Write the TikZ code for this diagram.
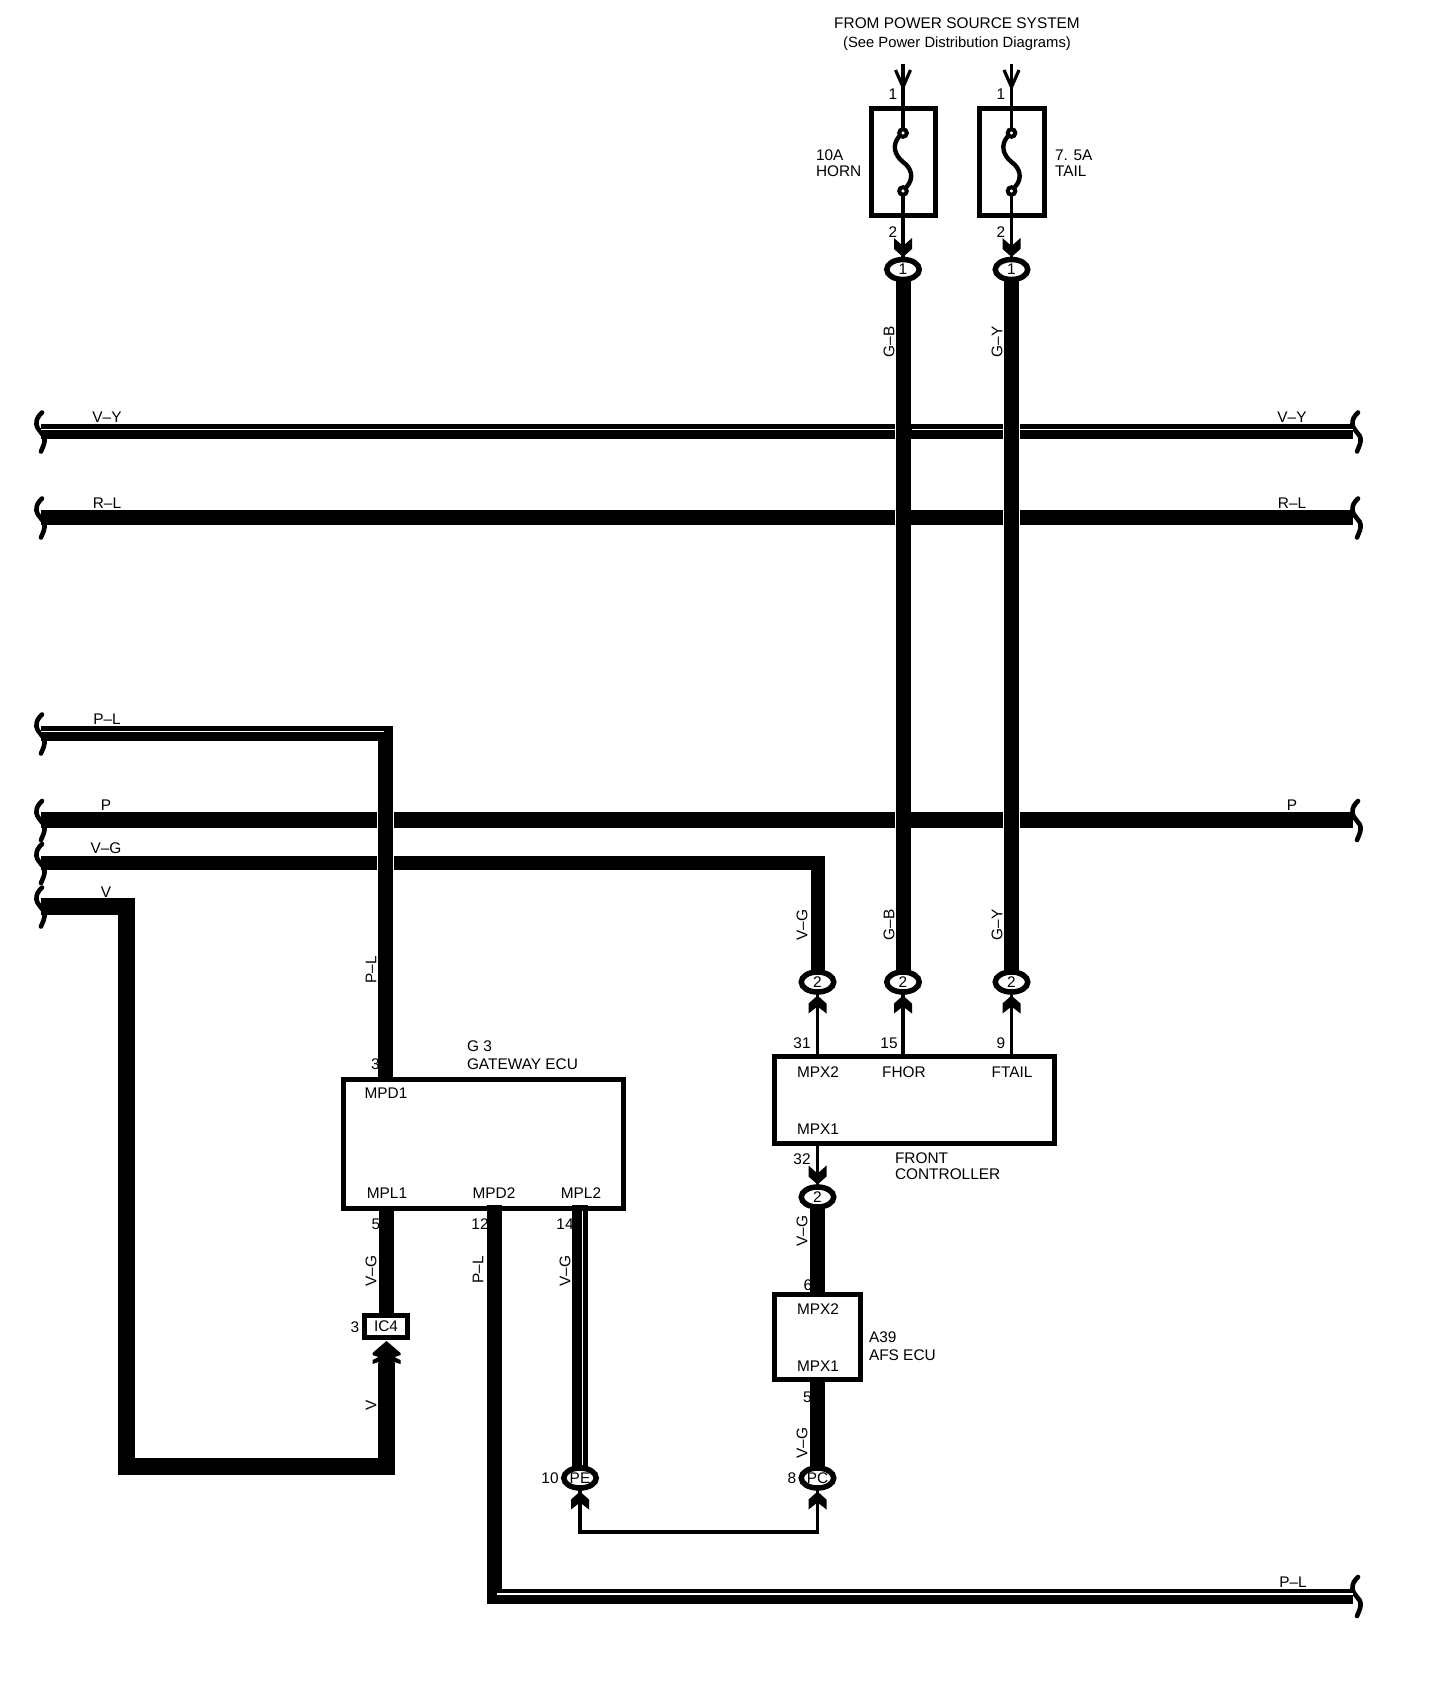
\documentclass[tikz,border=0pt]{standalone}
\usepackage{fontspec}
\setmainfont{Liberation Sans}
\usetikzlibrary{shapes.geometric,calc}
\tikzset{
  lbl/.style={inner sep=0pt,outer sep=0pt,font=\fontsize{7.7}{9}\selectfont},
  llbl/.style={lbl,anchor=west},
  vlbl/.style={lbl,rotate=90},
  boxn/.style={draw=black,fill=white,rectangle,line width=2.5pt,inner sep=0pt,outer sep=0pt,font=\fontsize{7.7}{9}\selectfont},
  oval/.style={draw=black,fill=white,ellipse,line width=2.75pt,inner sep=0pt,outer sep=0pt,minimum width=16.25pt,minimum height=10pt,font=\fontsize{7.7}{9}\selectfont},
  term/.style={draw=black,fill=white,circle,line width=2pt,inner sep=0pt,outer sep=0pt,minimum size=3.8pt},
  wire/.style={draw=black,line width=7.5pt,line cap=butt,line join=miter},
  fatwire/.style={draw=black,line width=8.5pt,line cap=butt,line join=miter},
  thinwire/.style={draw=black,line width=1.6pt,line cap=butt,line join=miter},
  core/.style={draw=white,line width=.55pt},
  halo/.style={draw=white,line width=8.2pt,shorten <=24pt,shorten >=24pt},
  sq/.pic={\draw[line width=2.3pt,line cap=round] (0,-19) .. controls (-4,-15) and (-6,-12) .. (-5.5,-7) .. controls (-5,-3) and (-2,-1) .. (-1,1) .. controls (1,3) and (3,5) .. (2.5,10) .. controls (2,14) and (0,17) .. (-1,20);},
  chevdown/.pic={\fill (0,0) -- (9,-8) -- (9,-19) -- (0,-11) -- (-9,-19) -- (-9,-8) -- cycle;},
  chevup/.pic={\fill (0,0) -- (9,8) -- (9,18) -- (0,11) -- (-9,18) -- (-9,8) -- cycle;},
  dblchev/.pic={\fill (0,0) -- (14,12) -- (14,14) -- (8,16) -- (14,19) -- (14,23) -- (8,21) -- (8,25) -- (-8,25) -- (-8,21) -- (-14,23) -- (-14,19) -- (-8,16) -- (-14,14) -- (-14,12) -- cycle;},
  openhead/.pic={\draw[line width=1.6pt,line join=miter] (-7.5,-17) -- (0,0) -- (7.5,-17);},
  fuses/.pic={\draw[line width=2.2pt,line cap=round] (-3.5,-26) .. controls (-11.5,-17) and (-8.5,-7) .. (0,0) .. controls (8.5,6) and (11.5,16) .. (3.5,25);},
}
\begin{document}
\begin{tikzpicture}[x=0.5pt,y=-0.5pt]
\fill[white] (0,0) rectangle (1440,1692);
\useasboundingbox (0,0) rectangle (1440,1692);

% end points of the through wires
\coordinate (vyL) at (41,431.5);  \coordinate (vyR) at (1353,431.5);
\coordinate (rlL) at (41,517.5);  \coordinate (rlR) at (1353,517.5);
\coordinate (plL) at (41,733.5);
\coordinate (pL)  at (41,820);    \coordinate (pR)  at (1353,820);
\coordinate (vgL) at (41,863);
\coordinate (vL)  at (41,906.5);
\coordinate (plB) at (1353,1596);
\coordinate (top1) at (903,64); \coordinate (top2) at (1011.5,64);

% horizontal wires
\draw[wire] (vyL) -- (vyR);
\draw[wire] (rlL) -- (rlR);
\draw[wire,line width=8pt] (pL) -- (pR);

% squiggle ends
\foreach \c in {vyL,rlL,plL,pL,vgL,vL} \pic at ([xshift=.5pt]\c) {sq};
\foreach \c in {vyR,rlR,pR,plB} \pic at ([xshift=2.5pt]\c) {sq};

% texts
\node[lbl] (tt1) at (957,23) {FROM POWER SOURCE SYSTEM};
\node[lbl,font=\fontsize{7.4}{9}\selectfont] (tt2) at (957,43.5) {(See Power Distribution Diagrams)};
\node[lbl] (n1a) at (893,94) {1};
\node[lbl] (n1b) at (1001,94) {1};
\node[lbl] (n2a) at (893,232) {2};
\node[lbl] (n2b) at (1001,232) {2};
\node[llbl] (f1a) at (816,155) {10A};
\node[llbl] (f1b) at (816,171) {HORN};
\node[llbl] (f2a) at (1055,155) {7. 5A};
\node[llbl] (f2b) at (1055,171) {TAIL};
\node[lbl] (a1) at (107,417) {V–Y};
\node[lbl] (a2) at (1292,417) {V–Y};
\node[lbl] (a3) at (107,503) {R–L};
\node[lbl] (a4) at (1292,503) {R–L};
\node[lbl] (a5) at (107,719) {P–L};
\node[lbl] (a6) at (106,805) {P};
\node[lbl] (a7) at (1292,805) {P};
\node[lbl] (a8) at (106,848) {V–G};
\node[lbl] (a9) at (106,892) {V};
\node[lbl] (a10) at (1293,1582) {P–L};
\node[vlbl] (b1) at (889,342) {G–B};
\node[vlbl] (b2) at (997,342) {G–Y};
\node[vlbl] (b3) at (802,925) {V–G};
\node[vlbl] (b4) at (889,925) {G–B};
\node[vlbl] (b5) at (997,925) {G–Y};
\node[vlbl] (b6) at (371,970) {P–L};
\node[vlbl] (b7) at (371,1271) {V–G};
\node[vlbl] (b8) at (478,1270) {P–L};
\node[vlbl] (b9) at (565,1271) {V–G};
\node[vlbl] (b10) at (802,1231) {V–G};
\node[vlbl] (b11) at (802,1443) {V–G};
\node[vlbl] (b12) at (371,1405) {V};
\node[lbl] (g1) at (375.5,1064) {3};
\node[llbl] (g2) at (467,1046) {G 3};
\node[llbl] (g3t) at (467,1064) {GATEWAY ECU};
\node[lbl] (g4) at (376,1224) {5};
\node[lbl] (g5) at (480,1224) {12};
\node[lbl] (g6) at (565,1224) {14};
\node[lbl] (g7) at (355,1327) {3};
\node[lbl] (c1) at (802,1043) {31};
\node[lbl] (c2) at (889,1043) {15};
\node[lbl] (c3) at (1001,1043) {9};
\node[lbl] (c4) at (802,1159) {32};
\node[llbl] (c5) at (895,1158) {FRONT};
\node[llbl] (c6) at (895,1174) {CONTROLLER};
\node[lbl] (d1) at (808,1285) {6};
\node[lbl] (d2) at (807.5,1397) {5};
\node[llbl] (d3) at (869,1337) {A39};
\node[llbl] (d4) at (869,1355) {AFS ECU};
\node[lbl] (e1) at (550,1478) {10};
\node[lbl] (e2) at (792,1478) {8};

% boxes
\node[boxn,minimum width=32pt,minimum height=53.5pt] (fuse1) at (903,162) {};
\node[boxn,minimum width=32.5pt,minimum height=53.5pt] (fuse2) at (1011.5,162) {};
\node[boxn,minimum width=140pt,minimum height=64.5pt] (g3) at (483,1143.5) {};
\node[boxn,minimum width=140pt,minimum height=43.5pt] (fc) at (914.5,1100) {};
\node[boxn,minimum width=43pt,minimum height=42.5pt] (afs) at (817.5,1337) {};
\node[boxn,minimum width=21.5pt,minimum height=11pt] (ic4) at (386,1326.5) {IC4};

% texts inside boxes
\node[lbl] (p1) at (386,1093) {MPD1};
\node[lbl] (p2) at (387,1193) {MPL1};
\node[lbl] (p3) at (494,1193) {MPD2};
\node[lbl] (p4) at (581,1193) {MPL2};
\node[lbl] (p5) at (818,1072) {MPX2};
\node[lbl] (p6) at (904,1072) {FHOR};
\node[lbl] (p7) at (1012,1072) {FTAIL};
\node[lbl] (p8) at (818,1129) {MPX1};
\node[lbl] (p9) at (818,1309) {MPX2};
\node[lbl] (p10) at (818,1366) {MPX1};

% connector rings
\node[oval] (o1a) at (903,269.5) {1};
\node[oval] (o1b) at (1011.5,269.5) {1};
\node[oval] (o2v) at (817.5,982) {2};
\node[oval] (o2b) at (903,982) {2};
\node[oval] (o2y) at (1011.5,982) {2};
\node[oval] (o2m) at (817.5,1197) {2};
\node[oval] (oPE) at (580,1478) {PE};
\node[oval] (oPC) at (817.5,1478) {PC};

% fuse terminals
\node[term] (t1a) at (903,133) {};
\node[term] (t1b) at (903,191) {};
\node[term] (t2a) at (1011.5,133) {};
\node[term] (t2b) at (1011.5,191) {};
\pic at (fuse1.center) {fuses};
\pic at (fuse2.center) {fuses};

% thin wires into and out of the fuses
\draw[thinwire] (top1) -- (fuse1.north);
\draw[thinwire] (fuse1.north) -- (t1a.north);
\draw[thinwire] (t1b.south) -- (fuse1.south);
\draw[thinwire] (fuse1.south) -- (o1a.north);
\draw[thinwire] (top2) -- (fuse2.north);
\draw[thinwire] (fuse2.north) -- (t2a.north);
\draw[thinwire] (t2b.south) -- (fuse2.south);
\draw[thinwire] (fuse2.south) -- (o1b.north);
\path (top1) ++(0,23) pic {openhead};
\path (top2) ++(0,23) pic {openhead};
\pic at ([yshift=1.25pt]o1a.north) {chevdown};
\pic at ([yshift=1.25pt]o1b.north) {chevdown};

% long vertical wires, with the white gap where they cross
\draw[halo] (o1a.south) -- (o2b.north);
\draw[halo] (o1b.south) -- (o2y.north);
\draw[wire] (o1a.south) -- (o2b.north);
\draw[wire] (o1b.south) -- (o2y.north);

% V-G bus
\draw[wire,line width=7pt] (vgL) -| (o2v.north);

% P-L bus to gateway
\coordinate (plC) at (385.5,733.5);
\draw[halo] (plC) -- (g3.north -| plC);
\draw[wire] (plL) -| (g3.north -| plC);
\draw[core] ([yshift=1pt]plL) -- (384,731.5);

% whites of the split-colour wires
\draw[core] ([yshift=1pt]vyL) -- (895.5,429.5);
\draw[core] (911.5,429.5) -- (1003,429.5);
\draw[core] (1020,429.5) -- ([yshift=1pt]vyR);

% front controller pins
\draw[thinwire] (o2v.south) -- (o2v.south |- fc.north);
\draw[thinwire] (o2b.south) -- (o2b.south |- fc.north);
\draw[thinwire] (o2y.south) -- (o2y.south |- fc.north);
\draw[thinwire] (o2v.south |- fc.south) -- (o2m.north);
\pic at ([yshift=-1.75pt]o2v.south) {chevup};
\pic at ([yshift=-1.75pt]o2b.south) {chevup};
\pic at ([yshift=-1.75pt]o2y.south) {chevup};
\pic at ([yshift=1.25pt]o2m.north) {chevdown};
\draw[wire] (o2m.south) -- (afs.north);
\draw[wire] (afs.south) -- (oPC.north);

% gateway lower pins
\coordinate (ic4arrow) at (386.5,1341);
\draw[wire] (ic4.north -| 386,0) -- (386,1211);
\draw[fatwire] (vL) -| (126.5,1466.5) -| (386.5,1363);
\pic at (ic4arrow) {dblchev};

\draw[wire] (494,1205) -- (494,1596) -- (plB);
\draw[core] (497,1594) -- ([yshift=1pt]plB);

\draw[wire,line width=8pt] (580,1205) -- (oPE.north);
\draw[draw=white,line width=.7pt] (582.7,1211) -- (582.7,1465);

% loop between PE and PC
\draw[thinwire] (oPE.south) -- ++(0,44) -| (oPC.south);
\pic at ([yshift=-1.75pt]oPE.south) {chevup};
\pic at ([yshift=-1.75pt]oPC.south) {chevup};

% frame of the gateway over the wire ends
\draw[line width=2.5pt] (g3.south west) rectangle (g3.north east);
\end{tikzpicture}
\end{document}
